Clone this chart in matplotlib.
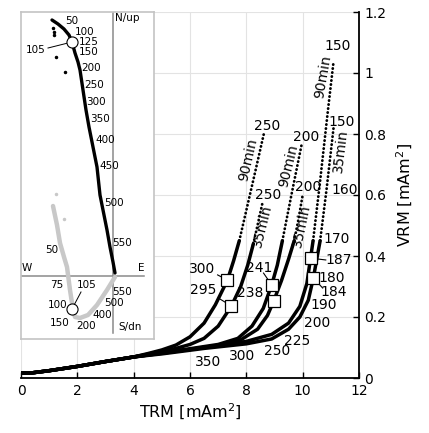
import numpy as np
import matplotlib.pyplot as plt

plt.rcParams.update({
    "font.family": "DejaVu Sans",
    "font.size": 10,
    "xtick.labelsize": 10,
    "ytick.labelsize": 10,
})

# common low-TRM part shared by all curves
base_trm = [0.0, 0.4, 1.0, 2.0, 3.0, 4.0]
base_vrm = [0.016, 0.017, 0.024, 0.038, 0.054, 0.069]

# solid part of each curve (after the common start)
a_trm = [4.5, 5.0, 5.5, 6.0, 6.5, 6.9, 7.33, 7.55, 7.75]
a_vrm = [0.080, 0.092, 0.108, 0.135, 0.18, 0.24, 0.321, 0.385, 0.45]
b_trm = [4.5, 5.0, 5.5, 6.0, 6.5, 7.0, 7.47, 7.8, 8.05, 8.25]
b_vrm = [0.078, 0.087, 0.097, 0.11, 0.13, 0.17, 0.236, 0.30, 0.37, 0.44]
c_trm = [5.0, 6.0, 7.0, 7.7, 8.2, 8.6, 8.9, 9.1, 9.28]
c_vrm = [0.083, 0.096, 0.11, 0.13, 0.17, 0.228, 0.305, 0.37, 0.45]
d_trm = [5.0, 6.0, 7.0, 7.8, 8.4, 8.75, 8.97, 9.25, 9.5, 9.7]
d_vrm = [0.082, 0.094, 0.107, 0.125, 0.16, 0.205, 0.252, 0.32, 0.39, 0.45]
e_trm = [5.0, 6.5, 8.0, 8.9, 9.5, 9.9, 10.15, 10.28, 10.37]
e_vrm = [0.081, 0.10, 0.12, 0.143, 0.18, 0.235, 0.31, 0.393, 0.45]
f_trm = [5.0, 6.5, 8.0, 8.9, 9.5, 9.9, 10.2, 10.38, 10.52, 10.62]
f_vrm = [0.079, 0.097, 0.112, 0.128, 0.16, 0.20, 0.255, 0.328, 0.40, 0.45]

# dotted continuation (VRM acquisition, 90 / 35 min)
a_dot_trm = [7.75, 8.0, 8.3, 8.62]
a_dot_vrm = [0.45, 0.55, 0.67, 0.80]
b_dot_trm = [8.25, 8.42, 8.58]
b_dot_vrm = [0.44, 0.51, 0.577]
c_dot_trm = [9.28, 9.6, 9.96]
c_dot_vrm = [0.45, 0.60, 0.764]
d_dot_trm = [9.7, 9.85, 10.0]
d_dot_vrm = [0.45, 0.52, 0.60]
e_dot_trm = [10.37, 10.6, 10.9, 11.1]
e_dot_vrm = [0.45, 0.63, 0.88, 1.04]
f_dot_trm = [10.62, 10.85, 11.1]
f_dot_vrm = [0.45, 0.62, 0.823]

# square markers and their labels
sq_trm = [7.33, 7.47, 8.9, 8.97, 10.28, 10.38]
sq_vrm = [0.321, 0.236, 0.305, 0.252, 0.393, 0.328]
sq_labels = ["300", "295", "241", "238", "187", "184"]
sq_lab_trm = [6.44, 6.48, 8.47, 8.15, 11.28, 11.1]
sq_lab_vrm = [0.357, 0.289, 0.36, 0.279, 0.387, 0.282]
lead_trm = [6.98, 7.01, 8.61, 8.75, 10.82, 10.71]
lead_vrm = [0.338, 0.262, 0.344, 0.266, 0.387, 0.295]

# temperature labels along the curves
t_labels = ["250", "250", "200", "200", "150", "150", "160", "170", "180",
            "190", "200", "225", "250", "300", "350"]
t_trm = [8.75, 8.79, 10.14, 10.18, 11.25, 11.4, 11.5, 11.2, 11.03,
         10.75, 10.5, 9.82, 9.11, 7.86, 6.65]
t_vrm = [0.826, 0.60, 0.79, 0.626, 1.09, 0.84, 0.616, 0.456, 0.328,
         0.24, 0.18, 0.121, 0.089, 0.072, 0.052]

time_labels = ["90min", "35min", "90min", "35min", "90min", "35min"]
time_trm = [8.08, 8.58, 9.5, 9.96, 10.71, 11.35]
time_vrm = [0.715, 0.50, 0.695, 0.50, 0.987, 0.744]
time_rot = [77, 76, 76, 78, 80, 83]

# inset: orthogonal projection (black = N/up, grey = S/dn)
hor_x = [-6.1, -5.5, -4.9, -4.4, -4.1, -3.8, -3.5, -3.3, -3.0, -2.7, -2.4,
         -2.0, -1.6, -1.3, -0.9, -0.6, -0.3, 0.0, 0.2]
hor_y = [25.6, 25.2, 24.7, 24.1, 23.4, 22.3, 21.4, 20.6, 18.6, 16.6, 14.9,
         12.9, 10.9, 8.1, 6.1, 4.6, 2.9, 1.4, 0.3]
hor_scat_x = [-6.0, -5.9, -5.9, -5.7, -4.8]
hor_scat_y = [24.8, 24.4, 24.1, 21.9, 20.4]
ver_x = [-6.0, -5.6, -5.3, -4.9, -4.6, -4.3, -4.1, -4.0, -3.8, -3.3, -2.5,
         -1.6, -0.6, 0.2]
ver_y = [7.0, 5.1, 3.3, 1.9, 0.9, -1.4, -2.7, -3.4, -4.1, -4.2, -3.9,
         -2.9, -1.4, -0.1]
ver_scat_x = [-4.9, -5.7]
ver_scat_y = [5.7, 8.2]

hor_labels = ["50", "100", "125", "150", "105", "200", "250", "300", "350",
              "400", "450", "500", "550"]
hor_lab_x = [-4.1, -2.8, -2.4, -2.4, -7.7, -2.2, -1.9, -1.7, -1.3, -0.8,
             -0.4, 0.1, 0.9]
hor_lab_y = [25.5, 24.4, 23.4, 22.4, 22.6, 20.8, 19.1, 17.4, 15.7, 13.6,
             11.0, 7.3, 3.3]
ver_labels = ["50", "75", "105", "100", "150", "200", "400", "500", "550"]
ver_lab_x = [-6.1, -5.6, -2.6, -5.5, -5.3, -2.7, -1.1, 0.1, 0.9]
ver_lab_y = [2.6, -0.9, -0.9, -2.9, -4.7, -5.0, -3.9, -2.7, -1.6]

fig = plt.figure(figsize=(4.29, 4.33), dpi=100)
ax = fig.add_axes([21/429, 1 - 378/433, 338/429, 366/433])

curves = [(a_trm, a_vrm, a_dot_trm, a_dot_vrm),
          (b_trm, b_vrm, b_dot_trm, b_dot_vrm),
          (c_trm, c_vrm, c_dot_trm, c_dot_vrm),
          (d_trm, d_vrm, d_dot_trm, d_dot_vrm),
          (e_trm, e_vrm, e_dot_trm, e_dot_vrm),
          (f_trm, f_vrm, f_dot_trm, f_dot_vrm)]
for tx, vy, dx, dy in curves:
    ax.plot(base_trm + tx, base_vrm + vy, color="black", lw=2.5,
            solid_capstyle="round", solid_joinstyle="round", zorder=3)
    ax.plot(dx, dy, color="black", lw=2.0, linestyle=(0, (0.1, 1.35)),
            dash_capstyle="round", zorder=3)

for i in range(len(sq_trm)):
    ax.plot([lead_trm[i], sq_trm[i]], [lead_vrm[i], sq_vrm[i]],
            color="black", lw=0.8, zorder=4)
    ax.text(sq_lab_trm[i], sq_lab_vrm[i], sq_labels[i], ha="center",
            va="center", fontsize=10, zorder=6)
ax.plot(sq_trm, sq_vrm, "s", ms=8, mfc="white", mec="black", mew=0.9,
        zorder=5)

for lab, x, y in zip(t_labels, t_trm, t_vrm):
    ax.text(x, y, lab, ha="center", va="center", fontsize=10, zorder=6)
for lab, x, y, r in zip(time_labels, time_trm, time_vrm, time_rot):
    ax.text(x, y, lab, ha="center", va="center", fontsize=10, rotation=r,
            rotation_mode="anchor", zorder=6)

ax.set_xlim(0, 12)
ax.set_ylim(0, 1.2)
ax.set_xticks(np.arange(0, 13, 2))
ax.set_yticks([0, 0.2, 0.4, 0.6, 0.8, 1.0, 1.2])
ax.set_yticklabels(["0", "0.2", "0.4", "0.6", "0.8", "1", "1.2"])
ax.yaxis.tick_right()
ax.yaxis.set_label_position("right")
ax.tick_params(direction="in", length=4, width=1, pad=4)
ax.grid(True, color="#e3e3e3", lw=0.8)
ax.set_axisbelow(True)
for s in ["left", "top"]:
    ax.spines[s].set_visible(False)
for s in ["right", "bottom"]:
    ax.spines[s].set_linewidth(1.3)
ax.set_xlabel("TRM [mAm$^2$]", fontsize=11.5, labelpad=3)
ax.set_ylabel("VRM [mAm$^2$]", fontsize=11.5, labelpad=6)

# inset
ins = fig.add_axes([21/429, 1 - 339/433, 133/429, 327/433], zorder=5)
ins.set_xlim(-9.2, 4.1)
ins.set_ylim(-6.3, 26.4)
ins.set_xticks([])
ins.set_yticks([])
for s in ins.spines.values():
    s.set_color("#c4c4c4")
    s.set_linewidth(1.2)
ins.plot([0, 0], [-5.7, 26.4], color="#8a8a8a", lw=1.1)
ins.plot([-9.2, 3.1], [0, 0], color="#8a8a8a", lw=1.1)
ins.plot(ver_x, ver_y, color="#c8c8c8", lw=3.2, solid_capstyle="round")
ins.plot(ver_scat_x, ver_scat_y, "o", color="#c8c8c8", ms=1.5)
ins.plot(hor_x, hor_y, color="black", lw=2.4, solid_capstyle="round")
ins.plot(hor_scat_x, hor_scat_y, "o", color="black", ms=1.5)
ins.plot([-6.5, -4.1], [22.8, 23.4], color="black", lw=0.7)
ins.plot([-3.2, -4.1], [-1.6, -3.3], color="black", lw=0.7)
ins.plot([-4.1], [23.4], "o", ms=8, mfc="white", mec="black", mew=0.8)
ins.plot([-4.1], [-3.3], "o", ms=8, mfc="white", mec="black", mew=0.8)
for lab, x, y in zip(hor_labels, hor_lab_x, hor_lab_y):
    ins.text(x, y, lab, ha="center", va="center", fontsize=7.5)
for lab, x, y in zip(ver_labels, ver_lab_x, ver_lab_y):
    ins.text(x, y, lab, ha="center", va="center", fontsize=7.5)
ins.text(-8.6, 0.8, "W", ha="center", va="center", fontsize=7.5)
ins.text(2.8, 0.8, "E", ha="center", va="center", fontsize=7.5)
ins.text(0.2, 25.8, "N/up", ha="left", va="center", fontsize=7.5)
ins.text(0.5, -5.1, "S/dn", ha="left", va="center", fontsize=7.5)

plt.savefig("out.png", dpi=100)
plt.close()
